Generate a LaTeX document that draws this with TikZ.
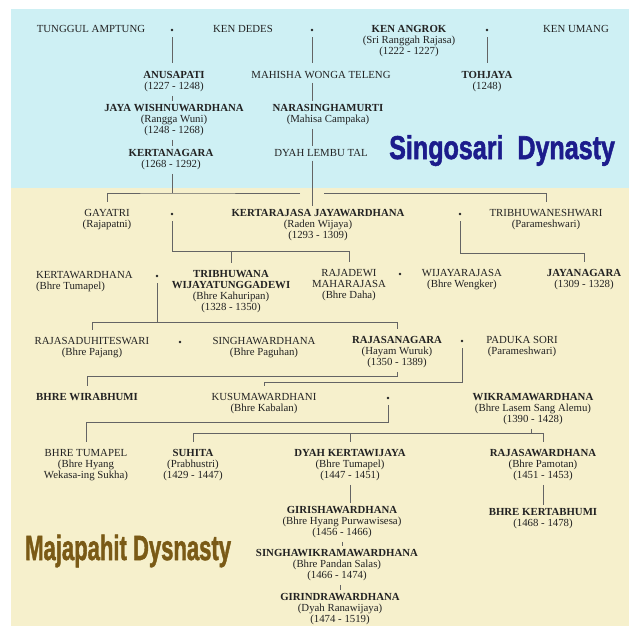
\documentclass[tikz,border=0pt]{standalone}
\usepackage{fontspec}
\usepackage{graphicx}
\setmainfont{Liberation Serif}
\newfontfamily\titlefont{Liberation Sans}[BoldFeatures={FakeBold=1.8}]
\definecolor{skyc}{RGB}{206,240,244}
\definecolor{creamc}{RGB}{246,240,204}
\definecolor{inkc}{RGB}{34,34,34}
\definecolor{linec}{RGB}{100,100,100}
\definecolor{sgblue}{RGB}{28,28,140}
\definecolor{mjbrown}{RGB}{122,90,22}
\begin{document}
\begin{tikzpicture}[x=1pt, y=-1pt, nm/.style = {align=center, inner sep=0pt, outer sep=4pt, anchor=north, text=inkc, font=\fontsize{10.8}{11}\selectfont}, wed/.style = {circle, fill=inkc, inner sep=0pt, minimum size=2.6pt, outer sep=6pt}, ln/.style = {draw=linec, line width=0.7pt}, dn/.style = {ln, shorten >=4pt}]
	\useasboundingbox (0,0) rectangle (629,626);
	\fill[skyc] (11,9) rectangle (629,188);
	\fill[creamc] (11,188) rectangle (629,626);
	\node[nm] (tunggul) at (91,21.5) {TUNGGUL AMPTUNG};
	\node[wed] (w1) at (172,30) {};
	\node[nm] (dedes) at (243,21.5) {KEN DEDES};
	\node[wed] (w2) at (312,30) {};
	\node[nm] (angrok) at (409,21.5) {\textbf{KEN ANGROK}\\(Sri Ranggah Rajasa)\\(1222 - 1227)};
	\node[wed] (w3) at (487,30) {};
	\node[nm] (umang) at (576,21.5) {KEN UMANG};
	\node[nm] (anusapati) at (174,67.5) {\textbf{ANUSAPATI}\\(1227 - 1248)};
	\node[nm] (mahisha) at (321,67.5) {MAHISHA WONGA TELENG};
	\node[nm] (tohjaya) at (487,67.5) {\textbf{TOHJAYA}\\(1248)};
	\node[nm] (wishnu) at (174,100.5) {\textbf{JAYA WISHNUWARDHANA}\\(Rangga Wuni)\\(1248 - 1268)};
	\node[nm] (narasingha) at (328,100.5) {\textbf{NARASINGHAMURTI}\\(Mahisa Campaka)};
	\node[nm] (kertanagara) at (171,145.5) {\textbf{KERTANAGARA}\\(1268 - 1292)};
	\node[nm] (lembutal) at (321,145.5) {DYAH LEMBU TAL};
	\node[anchor=base west, inner sep=0pt] (singosari) at (389,159) {\titlefont\bfseries\fontsize{33}{33}\selectfont\color{sgblue}\scalebox{0.76}[1]{Singosari\ \ Dynasty}};
	\node[nm] (gayatri) at (107,205.5) {GAYATRI\\(Rajapatni)};
	\node[wed] (w4) at (172,214) {};
	\node[nm] (kertarajasa) at (318,205.5) {\textbf{KERTARAJASA JAYAWARDHANA}\\(Raden Wijaya)\\(1293 - 1309)};
	\node[wed] (w5) at (460,214) {};
	\node[nm] (tribhuwaneshwari) at (546,205.5) {TRIBHUWANESHWARI\\(Parameshwari)};
	\node[nm, align=left, anchor=north west] (kertawardhana) at (32,267.5) {KERTAWARDHANA\\(Bhre Tumapel)};
	\node[wed] (w6) at (157,276) {};
	\node[nm] (tribhuwana) at (231,266.5) {\textbf{TRIBHUWANA}\\\textbf{WIJAYATUNGGADEWI}\\(Bhre Kahuripan)\\(1328 - 1350)};
	\node[nm] (rajadewi) at (349,265.5) {RAJADEWI\\MAHARAJASA\\(Bhre Daha)};
	\node[wed] (w7) at (400,274) {};
	\node[nm] (wijayarajasa) at (462,265.5) {WIJAYARAJASA\\(Bhre Wengker)};
	\node[nm] (jayanagara) at (584,265.5) {\textbf{JAYANAGARA}\\(1309 - 1328)};
	\node[nm] (rajasaduhiteswari) at (92,333.5) {RAJASADUHITESWARI\\(Bhre Pajang)};
	\node[wed] (w8) at (180,342) {};
	\node[nm] (singhawardhana) at (264,333.5) {SINGHAWARDHANA\\(Bhre Paguhan)};
	\node[nm] (rajasanagara) at (397,332.5) {\textbf{RAJASANAGARA}\\(Hayam Wuruk)\\(1350 - 1389)};
	\node[wed] (w9) at (462,341) {};
	\node[nm] (padukasori) at (522,332.5) {PADUKA SORI\\(Parameshwari)};
	\node[nm] (wirabhumi) at (87,389.5) {\textbf{BHRE WIRABHUMI}};
	\node[nm] (kusumawardhani) at (264,389.5) {KUSUMAWARDHANI\\(Bhre Kabalan)};
	\node[wed] (w10) at (388,398) {};
	\node[nm] (wikramawardhana) at (533,389.5) {\textbf{WIKRAMAWARDHANA}\\(Bhre Lasem Sang Alemu)\\(1390 - 1428)};
	\node[nm] (bhretumapel) at (86,445.5) {BHRE TUMAPEL\\(Bhre Hyang\\Wekasa-ing Sukha)};
	\node[nm] (suhita) at (193,445.5) {\textbf{SUHITA}\\(Prabhustri)\\(1429 - 1447)};
	\node[nm] (kertawijaya) at (350,445.5) {\textbf{DYAH KERTAWIJAYA}\\(Bhre Tumapel)\\(1447 - 1451)};
	\node[nm] (rajasawardhana) at (543,445.5) {\textbf{RAJASAWARDHANA}\\(Bhre Pamotan)\\(1451 - 1453)};
	\node[nm] (girishawardhana) at (342,502.5) {\textbf{GIRISHAWARDHANA}\\(Bhre Hyang Purwawisesa)\\(1456 - 1466)};
	\node[nm] (kertabhumi) at (543,504.5) {\textbf{BHRE KERTABHUMI}\\(1468 - 1478)};
	\node[nm] (singhawikrama) at (337,545.5) {\textbf{SINGHAWIKRAMAWARDHANA}\\(Bhre Pandan Salas)\\(1466 - 1474)};
	\node[nm] (girindrawardhana) at (340,589.5) {\textbf{GIRINDRAWARDHANA}\\(Dyah Ranawijaya)\\(1474 - 1519)};
	\node[anchor=base west, inner sep=0pt] (majapahit) at (25,560) {\titlefont\bfseries\fontsize{35}{35}\selectfont\color{mjbrown}\scalebox{0.63}[1]{Majapahit Dysnasty}};
	\coordinate (k1) at (172,193);
	\coordinate (k2) at (300,193);
	\coordinate (k3) at (324,193);
	\coordinate (g1) at (172,251);
	\coordinate (t1) at (460,253);
	\coordinate (s1) at (157,322);
	\coordinate (r1) at (397,376);
	\coordinate (p1) at (462,382);
	\coordinate (u1) at (388,422);
	\coordinate (v1) at (531,433);
	\draw[dn] (w1) -- (w1 |- anusapati.north);
	\draw[ln] (anusapati.south -| w1) -- (w1 |- wishnu.north);
	\draw[ln] (wishnu.south -| w1) -- (w1 |- kertanagara.north);
	\draw[dn] (w2) -- (w2 |- mahisha.north);
	\draw[ln] (mahisha.south -| w2) -- (w2 |- narasingha.north);
	\draw[ln] (narasingha.south -| w2) -- (w2 |- lembutal.north);
	\draw[ln] (lembutal.south -| w2) -- (w2 |- kertarajasa.north);
	\draw[dn] (w3) -- (tohjaya);
	\draw[ln] (kertanagara.south -| k1) -- (k1);
	\draw[dn] (k2) -- (k1) -| (gayatri);
	\draw[dn] (k3) -| (tribhuwaneshwari);
	\draw[dn] (w4) -- (g1) -| (rajadewi);
	\draw[dn] (tribhuwana.north |- g1) -- (tribhuwana);
	\draw[dn] (w5) -- (t1) -| (jayanagara);
	\draw[dn] (w6) -- (s1) -| (rajasanagara);
	\draw[dn] (s1) -| (rajasaduhiteswari);
	\draw[dn] (rajasanagara) -- (r1) -| (wirabhumi);
	\draw[dn] (w9) -- (p1) -| (kusumawardhani);
	\draw[dn] (w10) -- (u1) -| (bhretumapel);
	\draw[ln] (wikramawardhana.south -| v1) -- (v1);
	\draw[dn] (v1) -| (suhita);
	\draw[dn] (v1) -| (rajasawardhana);
	\draw[dn] (kertawijaya.north |- v1) -- (kertawijaya);
	\draw[ln] (kertawijaya.south) -- (kertawijaya.south |- girishawardhana.north);
	\draw[ln] (girishawardhana.south) -- (girishawardhana.south |- singhawikrama.north);
	\draw[ln] (singhawikrama.south -| girindrawardhana) -- (girindrawardhana);
	\draw[ln] (rajasawardhana) -- (kertabhumi);
\end{tikzpicture}
\end{document}
